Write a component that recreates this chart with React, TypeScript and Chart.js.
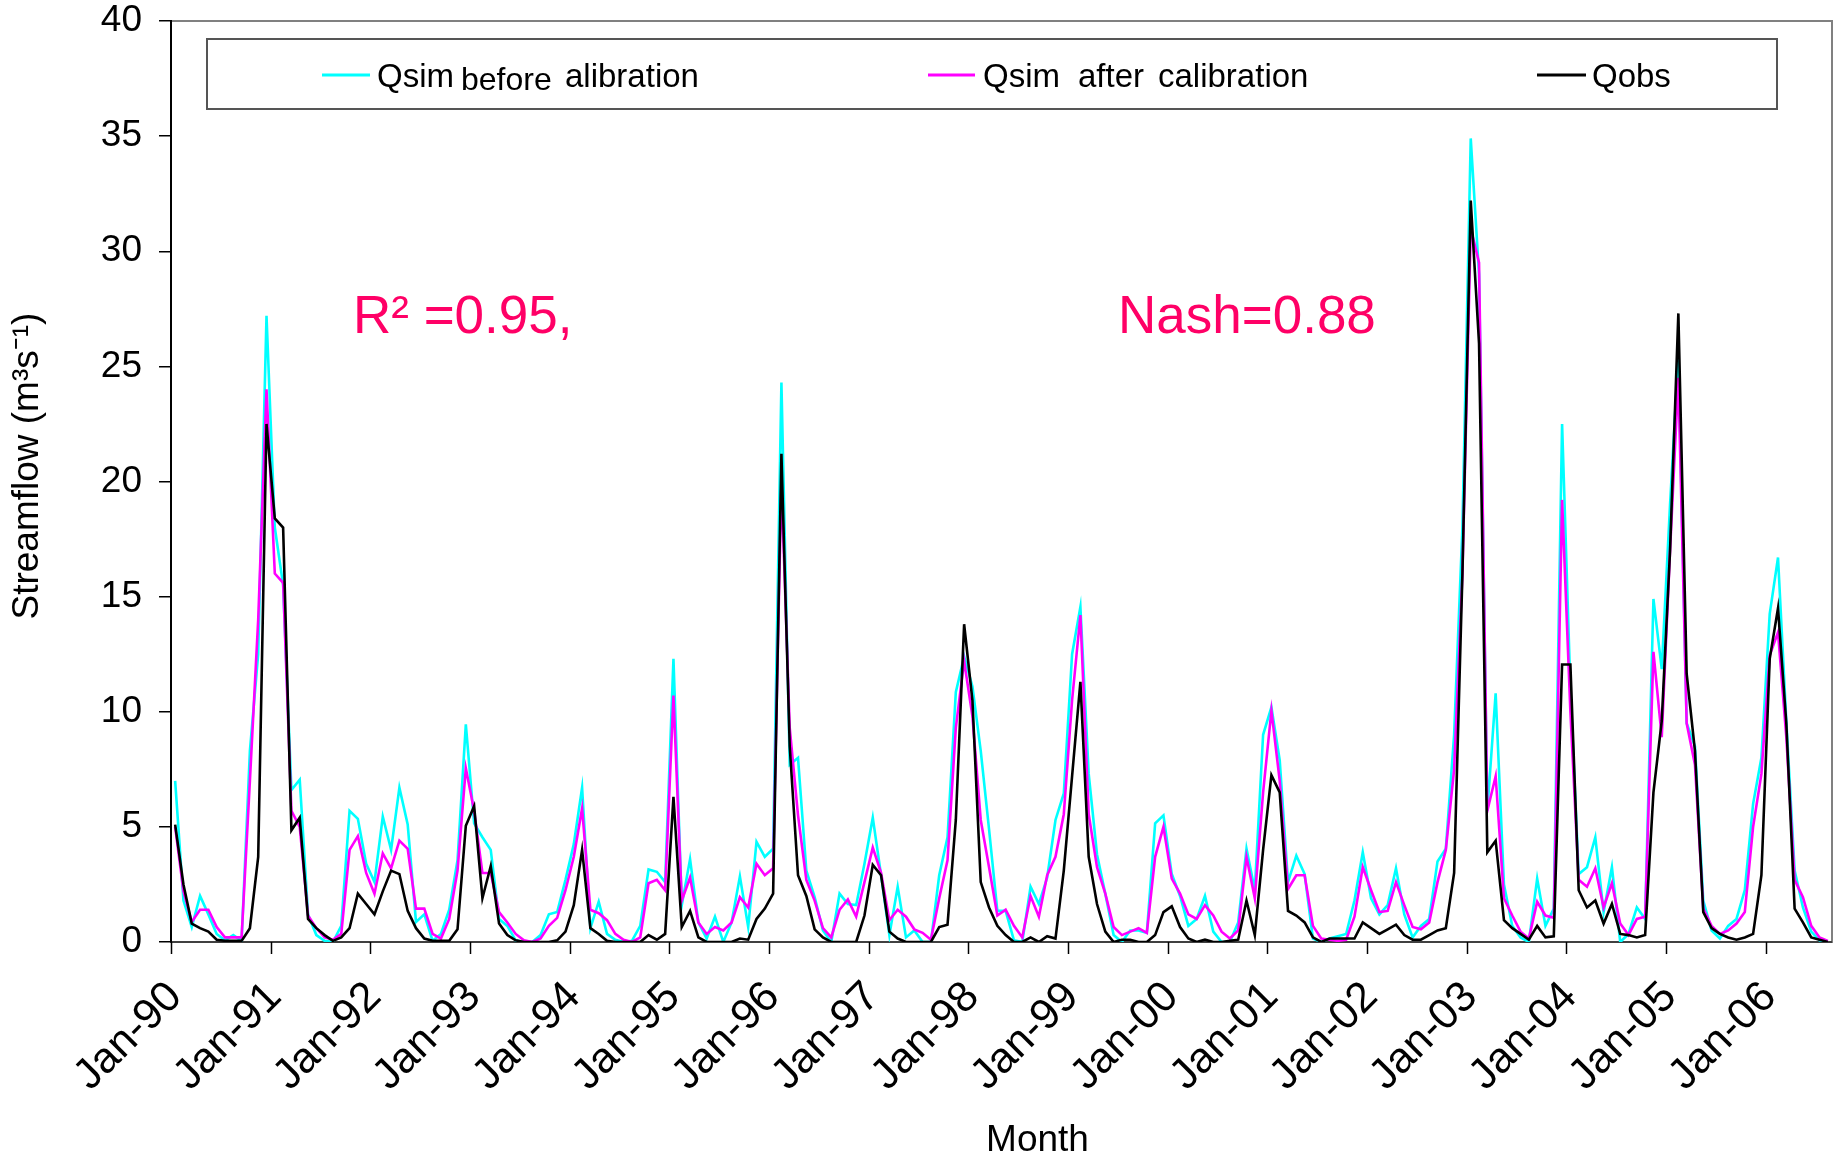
import React, { useEffect, useRef } from 'react';
import { Chart, registerables } from 'chart.js';

Chart.register(...registerables);

const MONTHS = ['Jan', 'Feb', 'Mar', 'Apr', 'May', 'Jun', 'Jul', 'Aug', 'Sep', 'Oct', 'Nov', 'Dec'];
const YEARS = ['90', '91', '92', '93', '94', '95', '96', '97', '98', '99', '00', '01', '02', '03', '04', '05', '06'];

// Monthly streamflow (m3/s), Jan-90 .. Aug-06
const qsimBefore = [
  7.0, 1.8, 0.65, 2.0, 1.2, 0.35, 0.07, 0.3, 0.05, 8.3, 12.5, 27.2,
  18.0, 15.5, 6.6, 7.05, 1.2, 0.3, 0.05, 0, 0.7, 5.7, 5.35, 3.4,
  2.6, 5.45, 4.0, 6.7, 5.1, 0.87, 1.2, 0.05, 0.35, 1.4, 3.55, 9.45,
  5.15, 4.55, 4.0, 1.0, 0.7, 0.07, 0, 0, 0.3, 1.2, 1.3, 2.7,
  4.25, 6.7, 0.6, 1.75, 0.35, 0.1, 0, 0.05, 0.7, 3.15, 3.05, 2.6,
  12.3, 1.6, 3.6, 0.85, 0.15, 1.1, 0, 0.85, 2.85, 0.65, 4.35, 3.7,
  4.05, 24.3, 7.7, 8.0, 3.1, 1.95, 0.5, 0, 2.1, 1.65, 1.6, 3.4,
  5.4, 2.9, 0.3, 2.4, 0.2, 0.5, 0, 0, 2.9, 4.55, 10.85, 12.4,
  11.1, 8.3, 4.9, 1.35, 1.35, 0.07, 0, 2.4, 1.65, 2.8, 5.3, 6.45,
  12.5, 14.55, 7.3, 3.8, 2.1, 0.3, 0, 0.5, 0.5, 0.4, 5.15, 5.5,
  2.95, 2.0, 0.7, 1.0, 2.0, 0.45, 0, 0, 0.85, 4.05, 2.25, 9.0,
  10.2, 7.9, 2.6, 3.75, 2.95, 0.15, 0, 0.15, 0.25, 0.35, 1.8, 3.9,
  1.9, 1.2, 1.6, 3.2, 1.2, 0.2, 0.7, 1.0, 3.5, 4.05, 9.0, 18.0,
  34.9, 29.0, 5.7, 10.8, 2.5, 0.7, 0.2, 0, 2.75, 0.7, 1.45, 22.5,
  11.0, 2.95, 3.25, 4.55, 1.3, 3.25, 0, 0.35, 1.5, 1.0, 14.9, 11.85,
  19.0, 25.5, 9.5, 8.5, 1.8, 0.5, 0.15, 0.7, 1.0, 2.25, 6.0, 8.0,
  14.25, 16.7, 9.6, 3.1, 1.5, 0.45, 0.07, 0,
];

const qsimAfter = [
  5.0, 2.2, 0.87, 1.4, 1.4, 0.65, 0.2, 0.2, 0.2, 7.0, 14.0, 24.0,
  16.0, 15.6, 5.7, 5.0, 1.15, 0.6, 0.2, 0.1, 0.35, 4.0, 4.6, 3.0,
  2.1, 3.85, 3.2, 4.4, 4.05, 1.45, 1.45, 0.35, 0.15, 1.0, 3.1, 7.55,
  5.7, 3.0, 3.0, 1.3, 0.85, 0.35, 0.07, 0, 0.15, 0.7, 1.05, 2.25,
  3.7, 5.8, 1.4, 1.25, 0.95, 0.35, 0.1, 0, 0.2, 2.55, 2.7, 2.25,
  10.7, 1.8, 2.8, 0.85, 0.35, 0.65, 0.5, 0.85, 1.95, 1.5, 3.4, 2.9,
  3.2, 20.0, 9.3, 5.5, 2.7, 1.8, 0.6, 0.2, 1.4, 1.85, 1.1, 2.6,
  4.1, 3.0, 0.95, 1.4, 1.1, 0.55, 0.4, 0.1, 1.9, 3.55, 9.3, 12.2,
  9.8, 5.3, 3.25, 1.15, 1.4, 0.7, 0.2, 2.0, 1.1, 2.9, 3.7, 5.55,
  10.5, 14.2, 5.55, 3.25, 2.1, 0.65, 0.3, 0.45, 0.6, 0.4, 3.7, 5.0,
  2.75, 2.1, 1.2, 1.0, 1.6, 1.15, 0.45, 0.15, 0.5, 3.7, 1.9, 6.5,
  10.05, 7.0, 2.3, 2.9, 2.9, 0.7, 0.15, 0.1, 0.05, 0.1, 1.1, 3.25,
  2.25, 1.3, 1.35, 2.6, 1.6, 0.65, 0.55, 0.85, 2.6, 4.0, 7.5, 16.0,
  31.0, 29.5, 5.7, 7.2, 1.9, 1.15, 0.45, 0.15, 1.75, 1.15, 1.05, 19.2,
  10.0, 2.7, 2.4, 3.2, 1.5, 2.55, 0.8, 0.3, 1.0, 1.1, 12.6, 8.9,
  17.0, 24.5, 9.5, 7.7, 1.45, 0.7, 0.35, 0.5, 0.8, 1.3, 5.0, 7.3,
  12.45, 13.45, 8.9, 2.7, 1.95, 0.7, 0.2, 0.05,
];

const qobs = [
  5.1, 2.5, 0.8, 0.6, 0.45, 0.1, 0.05, 0.05, 0.05, 0.6, 3.7, 22.5,
  18.4, 18.0, 4.85, 5.4, 1.0, 0.6, 0.3, 0.05, 0.2, 0.6, 2.1, 1.65,
  1.2, 2.2, 3.1, 2.95, 1.35, 0.6, 0.15, 0.05, 0.05, 0.05, 0.55, 5.05,
  5.9, 1.9, 3.3, 0.8, 0.3, 0.07, 0, 0, 0, 0, 0.07, 0.45,
  1.6, 4.0, 0.6, 0.35, 0.05, 0, 0, 0, 0, 0.3, 0.1, 0.35,
  6.3, 0.65, 1.35, 0.2, 0, 0, 0, 0, 0.15, 0.1, 1.0, 1.45,
  2.1, 21.2, 8.5, 2.9, 2.0, 0.55, 0.2, 0, 0, 0, 0, 1.15,
  3.35, 2.9, 0.45, 0.15, 0, 0, 0, 0, 0.65, 0.75, 5.3, 13.8,
  10.5, 2.6, 1.5, 0.7, 0.3, 0, 0, 0.2, 0, 0.25, 0.15, 3.1,
  7.2, 11.3, 3.7, 1.65, 0.45, 0, 0.1, 0.1, 0, 0, 0.3, 1.3,
  1.55, 0.65, 0.15, 0, 0.1, 0, 0, 0.05, 0.1, 1.8, 0.3, 4.0,
  7.25, 6.5, 1.35, 1.15, 0.85, 0.2, 0, 0.15, 0.15, 0.15, 0.15, 0.85,
  0.6, 0.35, 0.55, 0.75, 0.3, 0.1, 0.1, 0.3, 0.5, 0.6, 3.0, 16.0,
  32.2, 26.0, 3.9, 4.4, 0.95, 0.6, 0.35, 0.1, 0.7, 0.2, 0.25, 12.05,
  12.05, 2.25, 1.5, 1.8, 0.8, 1.65, 0.35, 0.3, 0.2, 0.3, 6.5, 9.6,
  17.0, 27.3, 11.65, 8.3, 1.3, 0.6, 0.35, 0.2, 0.1, 0.2, 0.35, 2.9,
  12.3, 14.5, 9.5, 1.45, 0.85, 0.2, 0.1, 0,
];

const allMonths: string[] = [];
YEARS.forEach((y) => MONTHS.forEach((m) => allMonths.push(`${m}-${y}`)));
const categories = allMonths.slice(0, qobs.length);

const Y_TICKS = { min: 0, max: 40, step: 5 };
const LABEL_EVERY = 12;

const SANS = '"Liberation Sans", Arial, sans-serif';

const decorPlugin = {
  id: 'decor',
  beforeDraw(chart: any) {
    const { ctx, chartArea: a } = chart;
    ctx.save();
    ctx.fillStyle = '#ffffff';
    ctx.fillRect(0, 0, chart.width, chart.height);
    ctx.strokeStyle = '#808080';
    ctx.lineWidth = 2;
    ctx.strokeRect(a.left, a.top, a.right - a.left, a.bottom - a.top);
    ctx.restore();
  },
  afterDraw(chart: any) {
    const { ctx, chartArea: a } = chart;
    const xs = chart.scales.x;
    ctx.save();
    // yearly tick marks on the category boundaries
    const half = (xs.getPixelForValue(1) - xs.getPixelForValue(0)) / 2;
    ctx.strokeStyle = '#000000';
    ctx.lineWidth = 1.5;
    for (let i = 0; i <= categories.length; i += LABEL_EVERY) {
      const px = Math.round(xs.getPixelForValue(Math.min(i, categories.length - 1)) + (i < categories.length ? -half : half)) + 0.5;
      ctx.beginPath();
      ctx.moveTo(px, a.bottom);
      ctx.lineTo(px, a.bottom + 12);
      ctx.stroke();
    }

    // legend box
    ctx.fillStyle = '#ffffff';
    ctx.fillRect(207, 39, 1570, 70);
    ctx.strokeStyle = '#555555';
    ctx.lineWidth = 2;
    ctx.strokeRect(207, 39, 1570, 70);

    const ly = 75;
    const samples = [
      { x0: 322, x1: 370, color: '#00FFFF' },
      { x0: 928, x1: 975, color: '#FF00FF' },
      { x0: 1537, x1: 1586, color: '#000000' },
    ];
    samples.forEach((s) => {
      ctx.strokeStyle = s.color;
      ctx.lineWidth = 3;
      ctx.beginPath();
      ctx.moveTo(s.x0, ly);
      ctx.lineTo(s.x1, ly);
      ctx.stroke();
    });
    ctx.fillStyle = '#000000';
    ctx.textBaseline = 'alphabetic';
    ctx.textAlign = 'left';
    ctx.font = `33px ${SANS}`;
    ctx.fillText('Qsim', 377, 87);
    ctx.font = `32px ${SANS}`;
    ctx.fillText('before', 461, 90);
    ctx.font = `33px ${SANS}`;
    ctx.fillText('alibration', 565, 87);
    ctx.fillText('Qsim', 983, 87);
    ctx.fillText('after', 1078, 87);
    ctx.fillText('calibration', 1158, 87);
    ctx.fillText('Qobs', 1592, 87);

    // statistics annotations
    ctx.fillStyle = '#FF0066';
    ctx.font = `53px ${SANS}`;
    ctx.fillText('R² =0.95,', 353, 333);
    ctx.fillText('Nash=0.88', 1118, 333);
    ctx.restore();
  },
};

export default function App() {
  const canvasRef = useRef<HTMLCanvasElement | null>(null);

  useEffect(() => {
    const canvas = canvasRef.current;
    if (!canvas) return;
    const chart = new Chart(canvas, {
      type: 'line',
      data: {
        labels: categories,
        datasets: [
          {
            label: 'Qsim before calibration',
            data: qsimBefore,
            borderColor: '#00FFFF',
            backgroundColor: '#00FFFF',
            borderWidth: 2.6,
            pointRadius: 0,
            tension: 0,
            order: 3,
          },
          {
            label: 'Qsim after calibration',
            data: qsimAfter,
            borderColor: '#FF00FF',
            backgroundColor: '#FF00FF',
            borderWidth: 2.6,
            pointRadius: 0,
            tension: 0,
            order: 2,
          },
          {
            label: 'Qobs',
            data: qobs,
            borderColor: '#000000',
            backgroundColor: '#000000',
            borderWidth: 2.6,
            pointRadius: 0,
            tension: 0,
            order: 1,
          },
        ],
      },
      options: {
        responsive: false,
        animation: false,
        devicePixelRatio: 1,
        layout: { padding: { left: 0, top: 21, right: 3, bottom: 0 } },
        plugins: {
          legend: { display: false },
          tooltip: { enabled: false },
        },
        scales: {
          x: {
            type: 'category',
            offset: true,
            grid: {
              offset: true,
              drawOnChartArea: false,
              drawTicks: true,
              tickLength: 12,
              lineWidth: 0,
              color: 'rgba(0,0,0,0)',
            },
            border: { display: true, color: '#404040', width: 2 },
            ticks: {
              autoSkip: false,
              maxRotation: 45,
              minRotation: 45,
              padding: 18,
              color: '#000000',
              font: { family: SANS, size: 43 },
              callback: (_v: any, i: number) => (i % LABEL_EVERY === 0 ? categories[i] : null),
            },
            title: {
              display: true,
              text: '       Month',
              color: '#000000',
              font: { family: SANS, size: 37 },
              padding: { top: 0, bottom: -3 },
            },
            afterFit: (s: any) => {
              s.height = 218;
              s.paddingLeft = 0;
              s.paddingRight = 0;
            },
          },
          y: {
            min: Y_TICKS.min,
            max: Y_TICKS.max,
            grid: {
              drawOnChartArea: false,
              drawTicks: true,
              tickLength: 12,
              lineWidth: 1.5,
              color: '#000000',
            },
            border: { display: true, color: '#000000', width: 2 },
            ticks: {
              stepSize: Y_TICKS.step,
              padding: 17,
              color: '#000000',
              font: { family: SANS, size: 37 },
            },
            title: {
              display: true,
              text: '   Streamflow (m³s⁻¹)',
              color: '#000000',
              font: { family: SANS, size: 37 },
              padding: { top: 6, bottom: 0 },
            },
            afterFit: (s: any) => {
              s.width = 171;
              s.paddingTop = 0;
              s.paddingBottom = 0;
            },
          },
        },
      },
      plugins: [decorPlugin],
    });
    return () => chart.destroy();
  }, []);

  return (
    <div style={{ position: 'fixed', left: 0, top: 0, width: 1835, height: 1160, background: '#fff' }}>
      <canvas ref={canvasRef} width={1835} height={1160} style={{ width: 1835, height: 1160, display: 'block' }} />
    </div>
  );
}
